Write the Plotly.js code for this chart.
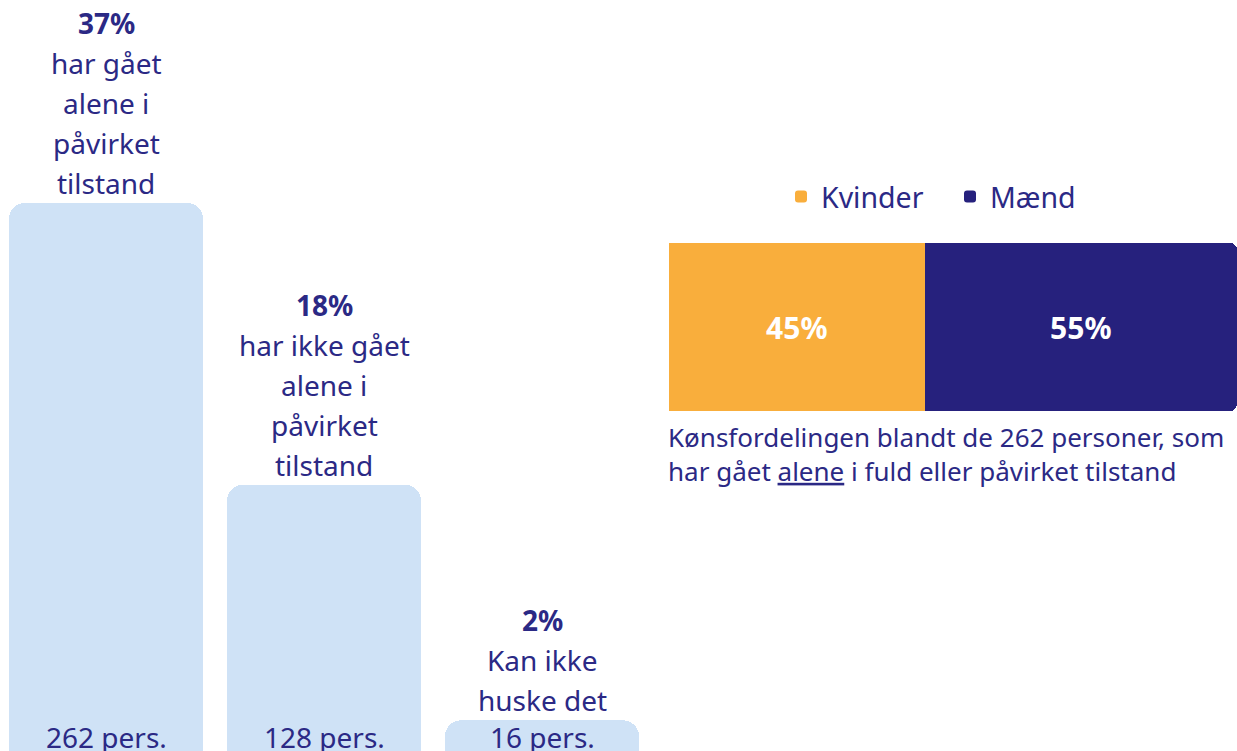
<!DOCTYPE html>
<html>
<head>
<meta charset="utf-8">
<script src="https://cdn.plot.ly/plotly-3.0.1.min.js"></script>
<style>html,body{margin:0;padding:0;background:#fff;}#chart{width:1237px;height:751px;}</style>
</head>
<body>
<div id="chart"></div>
<script>
// ---- data ----
const categories = ['Alene i påvirket tilstand', 'Ikke alene i påvirket tilstand', 'Kan ikke huske det'];
const persons = [262, 128, 16];
const shares = ['37%', '18%', '2%'];
const descriptions = [
  ['har gået', 'alene i', 'påvirket', 'tilstand'],
  ['har ikke gået', 'alene i', 'påvirket', 'tilstand'],
  ['Kan ikke', 'huske det']
];
const genderLabels = ['Kvinder', 'Mænd'];
const genderShares = [45, 55];
const captionLines = ['Kønsfordelingen blandt de 262 personer, som', 'har gået <u>alene</u> i fuld eller påvirket tilstand'];

// ---- style ----
const NAVY = '#26217d';
const TEXT = '#2b2985';
const LIGHT = '#cfe2f6';
const ORANGE = '#f9ae3c';
const FONT = '"Noto Sans", Lato, sans-serif';
const W = 1237, H = 751;
const LINE = 40;      // label line spacing (px)
const GAP = 20;       // gap from bar top to last label line centre (px)

const xIdx = categories.map((c, i) => i);

const traces = [
  {
    type: 'bar', x: xIdx, y: persons, xaxis: 'x', yaxis: 'y',
    marker: {color: LIGHT, cornerradius: 16}, width: 0.89,
    showlegend: false, hoverinfo: 'skip'
  }
];
const genderColors = [ORANGE, NAVY];
genderLabels.forEach((g, i) => {
  traces.push({
    type: 'bar', orientation: 'h', name: g, x: [genderShares[i]], y: ['g'],
    xaxis: 'x2', yaxis: 'y2', width: 1,
    marker: {color: genderColors[i], cornerradius: 7},
    text: ['<b>' + genderShares[i] + '%</b>'], textposition: 'inside', insidetextanchor: 'middle',
    textfont: {family: FONT, size: 30, color: '#ffffff'}, hoverinfo: 'skip'
  });
});

const annotations = [];
xIdx.forEach(i => {
  const lines = ['<b>' + shares[i] + '</b>'].concat(descriptions[i]);
  lines.forEach((ln, k) => {
    annotations.push({
      xref: 'x', yref: 'y', x: i, y: persons[i], xanchor: 'center', yanchor: 'middle',
      yshift: GAP + (lines.length - 1 - k) * LINE,
      text: ln, showarrow: false,
      font: {family: FONT, size: 28, color: TEXT}, align: 'center'
    });
  });
  annotations.push({
    xref: 'x', yref: 'paper', x: i, y: 0, xanchor: 'center', yanchor: 'middle', yshift: 14,
    text: persons[i] + ' pers.', showarrow: false,
    font: {family: FONT, size: 28, color: TEXT}
  });
});
annotations.push({
  xref: 'paper', yref: 'paper', x: 666 / W, y: 1 - 454 / H, xanchor: 'left', yanchor: 'middle',
  text: captionLines.join('<br>'), showarrow: false, align: 'left',
  font: {family: FONT, size: 26, color: TEXT}
});

const layout = {
  width: W, height: H, margin: {l: 0, r: 0, t: 0, b: 0},
  paper_bgcolor: '#fff', plot_bgcolor: 'rgba(0,0,0,0)',
  barmode: 'stack', bargap: 0,
  font: {family: FONT, color: TEXT},
  xaxis: {domain: [0, 650 / W], range: [-106 / 218, -106 / 218 + 650 / 218], visible: false, fixedrange: true},
  yaxis: {domain: [0, 1], range: [3 * 262 / 551, 754 * 262 / 551], visible: false, fixedrange: true},
  xaxis2: {domain: [669 / W, 1], range: [0, 100], visible: false, anchor: 'y2'},
  yaxis2: {domain: [1 - 411 / H, 1 - 243 / H], range: [-0.5, 0.5], visible: false, anchor: 'x2', type: 'category'},
  showlegend: true,
  legend: {orientation: 'h', x: 781 / W, xanchor: 'left', y: 1 - 197 / H, yanchor: 'middle',
    font: {family: FONT, size: 28.5, color: TEXT}, traceorder: 'normal', itemclick: false, itemdoubleclick: false,
    entrywidth: 124, entrywidthmode: 'pixels', bgcolor: 'rgba(0,0,0,0)'},
  annotations: annotations
};

Plotly.newPlot('chart', traces, layout, {displayModeBar: false, staticPlot: true});
</script>
</body>
</html>
